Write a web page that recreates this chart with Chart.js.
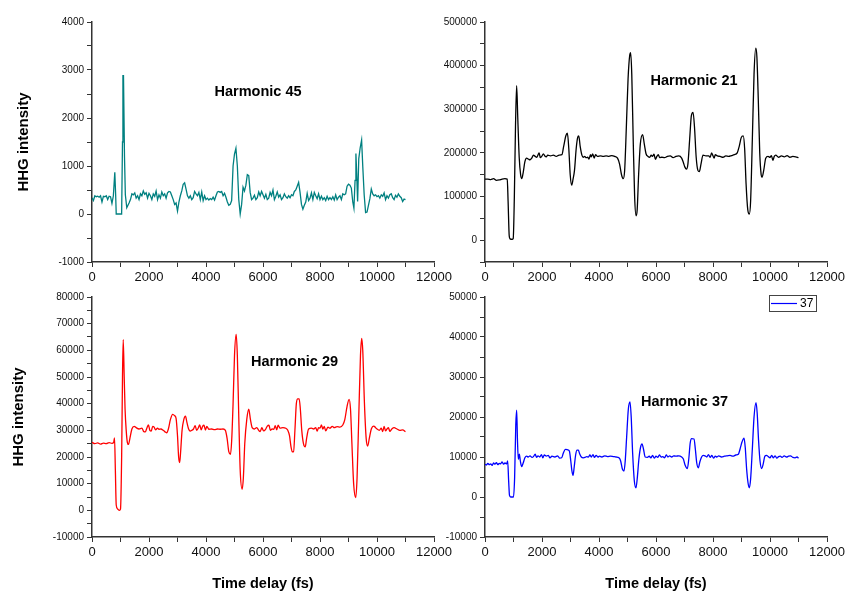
<!DOCTYPE html>
<html>
<head>
<meta charset="utf-8">
<title>HHG intensity vs time delay</title>
<script src="https://cdn.jsdelivr.net/npm/chart.js@4.4.1/dist/chart.umd.min.js"></script>
<style>
  body { margin: 0; background: #fff; width: 850px; height: 596px; position: relative; overflow: hidden; }
  canvas { position: absolute; }
</style>
</head>
<body>
<canvas id="c45" width="454" height="280" style="left:0;top:10px"></canvas>
<canvas id="c21" width="417" height="280" style="left:430px;top:10px"></canvas>
<canvas id="c29" width="454" height="311" style="left:0;top:285px"></canvas>
<canvas id="c37" width="417" height="311" style="left:430px;top:285px"></canvas>
<script>
// [time delay (fs), intensity]
const h45 = [[0,340],[50,280],[100,380],[150,360],[200,370],[250,350],[300,380],[350,250],[400,370],[450,360],[500,380],[550,300],[600,370],[650,360],[700,220],[750,380],[800,870],[830,400],[850,0],[950,0],[1040,0],[1070,1500],[1085,2880],[1105,2880],[1140,1200],[1170,400],[1220,130],[1300,230],[1350,300],[1400,420],[1450,400],[1500,440],[1550,330],[1600,380],[1650,300],[1700,420],[1750,380],[1800,480],[1850,410],[1900,440],[1950,330],[2000,430],[2050,380],[2100,300],[2150,420],[2200,370],[2250,480],[2300,300],[2350,400],[2400,330],[2450,460],[2500,380],[2550,420],[2600,330],[2650,440],[2700,470],[2750,460],[2800,380],[2850,300],[2900,200],[2950,230],[3000,60],[3050,250],[3100,380],[3150,480],[3200,620],[3250,650],[3300,520],[3350,380],[3400,330],[3450,380],[3500,300],[3550,340],[3600,470],[3650,420],[3700,380],[3750,450],[3800,300],[3850,460],[3900,280],[3950,380],[4000,300],[4050,330],[4100,290],[4150,320],[4200,300],[4250,350],[4300,290],[4350,380],[4400,460],[4450,470],[4500,450],[4550,470],[4600,380],[4650,430],[4700,350],[4750,250],[4800,180],[4850,200],[4900,280],[4950,1000],[5000,1250],[5050,1370],[5100,1000],[5150,300],[5200,0],[5250,200],[5300,560],[5350,480],[5400,600],[5450,820],[5500,800],[5550,450],[5600,300],[5650,330],[5700,390],[5750,300],[5800,340],[5850,460],[5900,380],[5950,470],[6000,400],[6050,330],[6100,410],[6150,300],[6200,330],[6250,450],[6300,380],[6350,500],[6400,300],[6450,370],[6500,460],[6550,350],[6600,400],[6650,300],[6700,340],[6750,420],[6800,360],[6850,330],[6900,380],[6950,340],[7000,400],[7050,380],[7100,470],[7150,500],[7200,580],[7250,660],[7300,450],[7350,200],[7400,100],[7450,180],[7500,250],[7550,430],[7600,280],[7650,330],[7700,440],[7750,300],[7800,450],[7850,380],[7900,320],[7950,420],[8000,300],[8050,370],[8100,300],[8150,340],[8200,280],[8250,370],[8300,300],[8350,340],[8400,300],[8450,360],[8500,290],[8550,400],[8600,300],[8650,350],[8700,380],[8750,300],[8800,420],[8850,400],[8900,420],[8950,580],[9000,620],[9050,600],[9100,540],[9150,250],[9190,120],[9230,700],[9260,1260],[9290,800],[9320,260],[9360,1150],[9410,1380],[9460,1540],[9500,1000],[9550,400],[9600,30],[9650,40],[9700,180],[9750,320],[9800,520],[9850,420],[9900,380],[9950,400],[10000,360],[10050,380],[10100,330],[10150,400],[10200,370],[10250,440],[10300,300],[10350,380],[10400,330],[10450,400],[10500,420],[10550,340],[10600,300],[10650,390],[10700,350],[10750,420],[10800,370],[10850,340],[10900,260],[10950,310],[11000,300]];

const h21 = [[0,140000],[100,140000],[200,139000],[300,141000],[400,137000],[500,138000],[600,140000],[700,141000],[780,140000],[810,90000],[850,10000],[880,3000],[950,2000],[990,4000],[1030,100000],[1070,260000],[1110,354000],[1150,280000],[1200,190000],[1250,150000],[1290,141000],[1340,155000],[1400,180000],[1460,188000],[1520,186000],[1580,184000],[1640,188000],[1700,195000],[1760,192000],[1820,190000],[1870,197000],[1900,200000],[1940,189000],[1990,192000],[2050,198000],[2100,193000],[2150,191000],[2200,195000],[2300,193000],[2400,195000],[2500,192000],[2600,195000],[2700,196000],[2760,215000],[2840,240000],[2890,245000],[2940,210000],[2990,150000],[3040,126000],[3090,140000],[3140,160000],[3200,210000],[3250,235000],[3290,239000],[3340,215000],[3400,195000],[3450,190000],[3500,192000],[3550,189000],[3600,190000],[3650,186000],[3700,196000],[3730,191000],[3780,198000],[3830,188000],[3880,196000],[3950,192000],[4050,193000],[4150,192000],[4250,193000],[4350,192000],[4450,194000],[4550,192000],[4650,188000],[4720,175000],[4790,150000],[4850,141000],[4900,160000],[4960,260000],[5020,370000],[5080,425000],[5110,430000],[5150,380000],[5200,230000],[5250,100000],[5300,56000],[5340,70000],[5390,150000],[5450,220000],[5530,242000],[5590,220000],[5650,198000],[5720,192000],[5780,190000],[5830,195000],[5880,192000],[5930,197000],[5980,185000],[6030,192000],[6080,196000],[6130,189000],[6200,190000],[6300,189000],[6400,192000],[6500,193000],[6600,189000],[6700,192000],[6800,193000],[6900,188000],[6960,178000],[7010,168000],[7070,163000],[7120,175000],[7180,230000],[7240,285000],[7300,293000],[7350,260000],[7410,190000],[7470,160000],[7520,157000],[7580,175000],[7650,195000],[7750,193000],[7850,193000],[7900,190000],[7950,200000],[7990,195000],[8040,188000],[8080,196000],[8150,193000],[8250,192000],[8350,190000],[8450,193000],[8550,192000],[8650,194000],[8750,196000],[8850,200000],[8920,215000],[8990,235000],[9060,239000],[9110,210000],[9160,130000],[9220,70000],[9275,60000],[9320,90000],[9380,230000],[9440,380000],[9500,440000],[9540,420000],[9590,320000],[9640,200000],[9690,150000],[9720,144000],[9780,160000],[9850,188000],[9930,192000],[10000,190000],[10050,194000],[10100,183000],[10150,192000],[10200,195000],[10300,190000],[10400,193000],[10500,191000],[10600,194000],[10700,190000],[10800,192000],[10900,191000],[11000,189000]];

const h29 = [[0,25500],[100,25000],[200,25300],[300,24800],[400,25200],[500,25000],[600,25400],[700,25100],[760,25500],[790,27200],[820,15000],[850,2000],[900,500],[960,0],[1000,500],[1040,20000],[1070,50000],[1095,64000],[1130,50000],[1160,38000],[1200,30000],[1240,25500],[1280,24700],[1330,27000],[1400,30500],[1480,31500],[1550,31000],[1650,30500],[1750,30800],[1820,29500],[1870,29400],[1930,31000],[1980,32000],[2030,30000],[2080,29700],[2130,31500],[2180,31200],[2230,30200],[2300,30800],[2350,30400],[2420,30500],[2500,30000],[2580,29300],[2620,29100],[2680,30500],[2750,34000],[2830,36000],[2900,35500],[2950,34500],[3000,28000],[3040,20000],[3076,17900],[3110,22000],[3160,30000],[3220,34000],[3280,35300],[3330,33000],[3390,30500],[3450,29700],[3500,30000],[3560,30500],[3620,31800],[3670,30000],[3720,30700],[3780,32000],[3830,30200],[3880,31500],[3930,31900],[3980,30100],[4030,31500],[4100,30400],[4200,30500],[4300,30300],[4400,30500],[4500,30400],[4600,30500],[4680,30000],[4740,27000],[4800,22000],[4860,21000],[4900,26000],[4950,40000],[5000,58000],[5058,66000],[5100,58000],[5150,35000],[5200,15000],[5268,7900],[5310,12000],[5360,25000],[5430,34000],[5500,37900],[5560,34000],[5620,31000],[5700,30500],[5780,31000],[5850,30000],[5900,29500],[5960,31000],[6020,29800],[6090,30400],[6150,31600],[6210,31900],[6260,30000],[6320,30500],[6380,30400],[6430,31800],[6480,30200],[6530,31900],[6600,30800],[6700,31000],[6800,30800],[6870,30000],[6930,28000],[6980,24000],[7030,21900],[7073,22000],[7120,30000],[7170,40000],[7220,41800],[7270,41800],[7310,38000],[7360,30000],[7420,25000],[7481,23800],[7530,27000],[7600,30500],[7700,30800],[7780,30500],[7850,31000],[7900,29700],[7950,31000],[8000,30800],[8050,32000],[8100,30500],[8150,31500],[8200,29800],[8280,31200],[8350,30800],[8430,31500],[8500,31000],[8600,31400],[8700,31200],[8800,32000],[8870,34000],[8950,39000],[9021,41600],[9070,38000],[9120,25000],[9180,10000],[9254,4750],[9300,12000],[9360,35000],[9420,58000],[9464,64500],[9500,60000],[9560,40000],[9620,27000],[9674,24100],[9730,27000],[9800,30500],[9890,31600],[9950,31000],[10000,30500],[10080,30000],[10150,30800],[10200,29500],[10250,31500],[10300,29800],[10350,30500],[10400,31000],[10450,29600],[10520,30500],[10600,31000],[10700,30500],[10800,30000],[10900,30200],[11000,29500]];

const h37 = [[0,8200],[50,8000],[100,8400],[150,8100],[200,8300],[250,7900],[300,8500],[350,8200],[400,8600],[450,8100],[500,8400],[550,8300],[600,8800],[650,8200],[700,8500],[760,8300],[795,9000],[830,4000],[860,400],[900,0],[1000,0],[1040,5000],[1080,18000],[1111,21700],[1140,14000],[1170,9400],[1205,10700],[1240,9000],[1287,7600],[1340,8500],[1400,9800],[1462,10200],[1520,10000],[1580,10300],[1650,9900],[1700,10100],[1760,10700],[1810,9900],[1860,10300],[1920,10000],[1980,10600],[2030,9800],[2080,10500],[2150,10200],[2220,10400],[2280,9800],[2350,10200],[2450,10000],[2550,10300],[2620,9700],[2690,9800],[2750,11000],[2820,11900],[2900,11800],[2960,11500],[3010,9000],[3050,6500],[3088,5400],[3130,7500],[3180,10500],[3230,11700],[3275,11700],[3320,10800],[3380,10000],[3450,9800],[3510,9900],[3570,10100],[3630,10000],[3680,10500],[3730,10000],[3790,10600],[3840,9900],[3900,10400],[3960,10000],[4020,10200],[4100,10000],[4200,10300],[4300,10100],[4400,10200],[4500,10100],[4600,10000],[4700,9800],[4760,9000],[4820,7000],[4877,6500],[4920,9000],[4970,15000],[5030,22000],[5088,23800],[5130,20000],[5180,11000],[5240,4000],[5298,2300],[5340,4500],[5400,9500],[5460,12500],[5509,13300],[5560,12000],[5620,10000],[5700,9900],[5760,10200],[5820,9800],[5880,10400],[5940,9700],[6000,10200],[6060,9900],[6120,10500],[6180,10000],[6240,10100],[6300,9800],[6360,10500],[6420,10000],[6480,10300],[6550,10000],[6620,10300],[6700,10200],[6800,10300],[6900,10000],[6960,9500],[7020,8000],[7099,7100],[7150,9500],[7200,13500],[7251,14600],[7333,14500],[7380,12000],[7430,8500],[7485,7300],[7540,8800],[7600,10000],[7660,10400],[7720,10300],[7780,10000],[7840,10600],[7900,9900],[7960,10400],[8020,9700],[8080,10200],[8140,10000],[8200,10300],[8300,10000],[8400,10200],[8500,10300],[8600,10400],[8700,10200],[8800,10500],[8890,10700],[8950,12000],[9020,13800],[9088,14700],[9130,12500],[9180,7000],[9230,3500],[9275,2300],[9320,4500],[9380,12000],[9440,20000],[9509,23600],[9550,21000],[9600,14000],[9650,9000],[9708,7100],[9760,8200],[9820,10200],[9880,10400],[9940,10100],[10000,9800],[10060,10400],[10120,9800],[10180,10300],[10240,9700],[10300,10100],[10360,10200],[10420,9900],[10500,10300],[10580,10000],[10650,10200],[10720,10300],[10800,9900],[10880,9800],[10950,10000],[11000,9700]];

// axis ranges: [min, max, minor step, labelled step]
const xRange = [0, 12000, 1000, 2000];
const yRange45 = [-1000, 4000, 500, 1000];
const yRange21 = [-50000, 500000, 50000, 100000];
const yRange29 = [-10000, 80000, 5000, 10000];
const yRange37 = [-10000, 50000, 5000, 10000];

const FONT = 'Arial, "Liberation Sans", sans-serif';

// draws the "Harmonic NN" caption and, if asked, the little legend box
const panelText = {
  id: 'panelText',
  afterDatasetsDraw(chart, args, opts) {
    const { ctx, chartArea, scales } = chart;
    ctx.save();
    ctx.font = 'bold 14.5px ' + FONT;
    ctx.fillStyle = '#000';
    ctx.textAlign = 'center';
    ctx.textBaseline = 'middle';
    ctx.fillText(opts.text, scales.x.getPixelForValue(opts.at[0]), scales.y.getPixelForValue(opts.at[1]));
    if (opts.legend) {
      const ds = chart.data.datasets[0];
      const bx = chartArea.right - 58, by = chartArea.top - 2, bw = 47, bh = 16;
      ctx.strokeStyle = '#444';
      ctx.lineWidth = 1;
      ctx.strokeRect(bx + 0.5, by + 0.5, bw, bh);
      ctx.strokeStyle = ds.borderColor;
      ctx.lineWidth = 1.2;
      ctx.beginPath();
      ctx.moveTo(bx + 2, by + 8.5);
      ctx.lineTo(bx + 28, by + 8.5);
      ctx.stroke();
      ctx.font = '12px ' + FONT;
      ctx.fillStyle = '#000';
      ctx.textAlign = 'left';
      ctx.fillText(ds.label, bx + 31, by + 9);
    }
    ctx.restore();
  }
};

function makeChart(id, series, color, yRange, p) {
  const ctx = document.getElementById(id).getContext('2d');
  return new Chart(ctx, {
    type: 'line',
    data: {
      datasets: [{
        label: p.label,
        data: series.map(d => ({ x: d[0], y: d[1] })),
        borderColor: color,
        borderWidth: 1.3,
        pointRadius: 0,
        fill: false,
        cubicInterpolationMode: p.smooth ? 'monotone' : 'default',
        tension: 0
      }]
    },
    options: {
      responsive: false,
      animation: false,
      events: [],
      layout: { padding: { top: 12, right: 20, left: 0, bottom: 0 } },
      plugins: {
        legend: { display: false },
        tooltip: { enabled: false },
        panelText: { text: p.text, at: p.at, legend: p.legend }
      },
      scales: {
        x: {
          type: 'linear',
          min: xRange[0], max: xRange[1],
          grid: { drawOnChartArea: false, tickLength: 5, color: '#333', tickColor: '#333' },
          border: { display: true, color: '#333', width: 1.5 },
          ticks: {
            stepSize: xRange[2], autoSkip: false, maxRotation: 0, padding: 3,
            color: '#111', font: { family: FONT, size: 13 },
            callback: v => (v % xRange[3] === 0 ? String(v) : '')
          },
          title: {
            display: !!p.xTitle, text: 'Time delay (fs)', color: '#000',
            font: { family: FONT, size: 14.5, weight: 'bold' },
            padding: { top: 0, bottom: 3 }
          },
          afterFit: s => { s.height = p.xHeight; s.paddingLeft = 0; s.paddingRight = 0; }
        },
        y: {
          type: 'linear',
          min: yRange[0], max: yRange[1],
          grid: { drawOnChartArea: false, tickLength: 5, color: '#333', tickColor: '#333' },
          border: { display: true, color: '#333', width: 1.5 },
          ticks: {
            stepSize: yRange[2], autoSkip: false, padding: 3,
            color: '#111', font: { family: FONT, size: 10 },
            callback: v => (v % yRange[3] === 0 ? String(v) : '')
          },
          title: {
            display: !!p.yTitle, text: 'HHG intensity', color: '#000',
            font: { family: FONT, size: 15, weight: 'bold' },
            padding: { top: p.yTitlePad || 0, bottom: 0 }
          },
          afterFit: s => { s.width = p.yWidth; s.paddingTop = 0; s.paddingBottom = 0; }
        }
      }
    },
    plugins: [panelText]
  });
}

makeChart('c45', h45, '#008080', yRange45, {
  label: '45', text: 'Harmonic 45', at: [5825, 2552],
  yTitle: true, yTitlePad: 15, yWidth: 92, xHeight: 28
});
makeChart('c21', h21, '#000000', yRange21, {
  label: '21', text: 'Harmonic 21', at: [7333, 364800], smooth: true,
  yWidth: 55, xHeight: 28
});
makeChart('c29', h29, '#ff0000', yRange29, {
  label: '29', text: 'Harmonic 29', at: [7105, 55800], smooth: true,
  yTitle: true, yTitlePad: 10, yWidth: 92, xTitle: true, xHeight: 59
});
makeChart('c37', h37, '#0000ff', yRange37, {
  label: '37', text: 'Harmonic 37', at: [7000, 23750], smooth: true, legend: true,
  yWidth: 55, xTitle: true, xHeight: 59
});
</script>
</body>
</html>
